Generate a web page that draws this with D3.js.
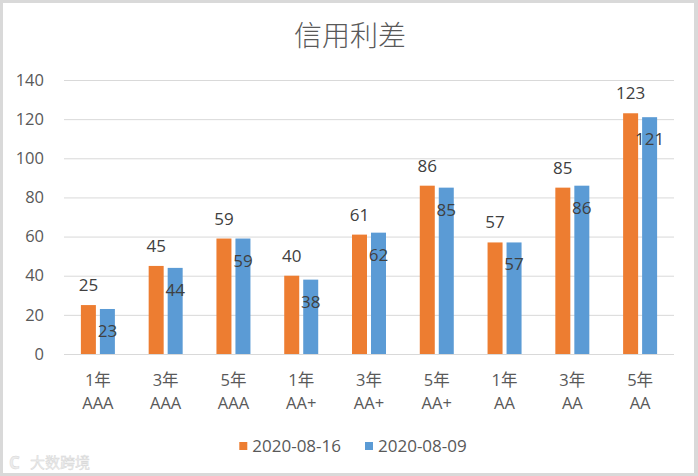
<!DOCTYPE html>
<html>
<head>
<meta charset="utf-8">
<script src="https://cdn.jsdelivr.net/npm/d3@7"></script>
<style>
  html, body { margin: 0; padding: 0; background: #fff; }
  svg { display: block; }
  text { font-family: "Open Sans", "Noto Sans CJK SC", sans-serif; }
</style>
</head>
<body>
<svg id="chart" width="698" height="476"></svg>
<script>
const title = "信用利差";
const tenors = ["1年", "3年", "5年", "1年", "3年", "5年", "1年", "3年", "5年"];
const ratings = ["AAA", "AAA", "AAA", "AA+", "AA+", "AA+", "AA", "AA", "AA"];
const categories = tenors.map((t, i) => t + " " + ratings[i]);
const seriesNames = ["2020-08-16", "2020-08-09"];
const series0816 = [25, 45, 59, 40, 61, 86, 57, 85, 123];
const series0809 = [23, 44, 59, 38, 62, 85, 57, 86, 121];
const yTicks = [0, 20, 40, 60, 80, 100, 120, 140];
const colors = ["#ED7D31", "#5B9BD5"];

(function () {
const svg = d3.select("#chart");
const W = 698, H = 476;

// frame
svg.append("rect").attr("x", 0).attr("y", 0).attr("width", W).attr("height", H).attr("fill", "#d9d9d9");
svg.append("rect").attr("x", 3).attr("y", 3).attr("width", W - 7).attr("height", H - 6).attr("fill", "#fff");

const pLeft = 64, pRight = 674, pTop = 80, pBottom = 354;
const x = d3.scaleBand().domain(categories).range([pLeft, pRight]).paddingInner(0).paddingOuter(0);
const bw = x.bandwidth();
const x1 = d3.scaleBand().domain([0, 1]).range([bw / 2 - 17, bw / 2 + 17]).paddingInner(0.2105).paddingOuter(0);
const y = d3.scaleLinear().domain([0, 140]).range([pBottom, pTop]);

// title
svg.append("text").attr("x", 350).attr("y", 46).attr("text-anchor", "middle")
  .attr("font-family", "'Noto Sans CJK SC', sans-serif").attr("font-weight", 300)
  .attr("font-size", 28).attr("fill", "#595959").text(title);

// y axis with gridlines
const yAxis = d3.axisLeft(y).tickValues(yTicks).tickSize(-(pRight - pLeft)).tickPadding(20).tickFormat(d3.format("d"));
const gy = svg.append("g").attr("transform", `translate(${pLeft},0)`).call(yAxis);
gy.select(".domain").remove();
gy.selectAll(".tick line").attr("stroke", "#d9d9d9").attr("stroke-width", 1);
gy.selectAll(".tick text").attr("fill", "#595959").attr("font-size", 16.5)
  .attr("font-family", "'Open Sans', sans-serif");

// bars
const seriesData = [series0816, series0809];
seriesData.forEach((vals, si) => {
  svg.append("g").selectAll("rect").data(vals).join("rect")
    .attr("x", (d, i) => x(categories[i]) + x1(si))
    .attr("y", d => y(d))
    .attr("width", x1.bandwidth())
    .attr("height", d => y(0) - y(d))
    .attr("fill", colors[si]);
});

// data labels
svg.append("g").selectAll("text").data(series0816).join("text")
  .attr("x", (d, i) => x(categories[i]) + x1(0) + x1.bandwidth() / 2)
  .attr("y", d => y(d) - 14)
  .attr("text-anchor", "middle").attr("font-size", 17).attr("fill", "#404040")
  .text(d => d);
svg.append("g").selectAll("text").data(series0809).join("text")
  .attr("x", (d, i) => x(categories[i]) + x1(1) + x1.bandwidth() / 2)
  .attr("y", d => y(d) + 28)
  .attr("text-anchor", "middle").attr("font-size", 17).attr("fill", "#404040")
  .text(d => d);

// category labels
const cg = svg.append("g").selectAll("text").data(categories).join("text")
  .attr("text-anchor", "middle").attr("fill", "#595959").attr("font-size", 16.5);
cg.append("tspan").attr("x", (d, i) => x(d) + bw / 2).attr("y", 386).text((d, i) => tenors[i]);
cg.append("tspan").attr("x", (d, i) => x(d) + bw / 2).attr("y", 409).text((d, i) => ratings[i]);

// legend
const lg = svg.append("g");
let cx = 0;
seriesNames.forEach((name, i) => {
  const it = lg.append("g").attr("transform", `translate(${cx},0)`);
  it.append("rect").attr("x", 0).attr("y", 442).attr("width", 8).attr("height", 8).attr("fill", colors[i]);
  const t = it.append("text").attr("x", 13).attr("y", 452).attr("font-size", 17).attr("fill", "#595959").text(name);
  cx += 13 + t.node().getComputedTextLength() + 24;
});
const lw = cx - 24;
lg.attr("transform", `translate(${353 - lw / 2},0)`);

// watermark
svg.append("text").attr("x", 30).attr("y", 468).attr("font-family", "'Noto Sans CJK SC', sans-serif")
  .attr("font-size", 15).attr("fill", "#ececec").attr("stroke", "#d6d6d6").attr("stroke-width", 0.4)
  .text("大数跨境");
svg.append("text").attr("x", 9).attr("y", 469).attr("font-family", "'Open Sans', sans-serif")
  .attr("font-size", 17).attr("font-weight", 700).attr("fill", "#ececec").attr("stroke", "#d6d6d6").attr("stroke-width", 0.4)
  .text("C");
})();
</script>
</body>
</html>
